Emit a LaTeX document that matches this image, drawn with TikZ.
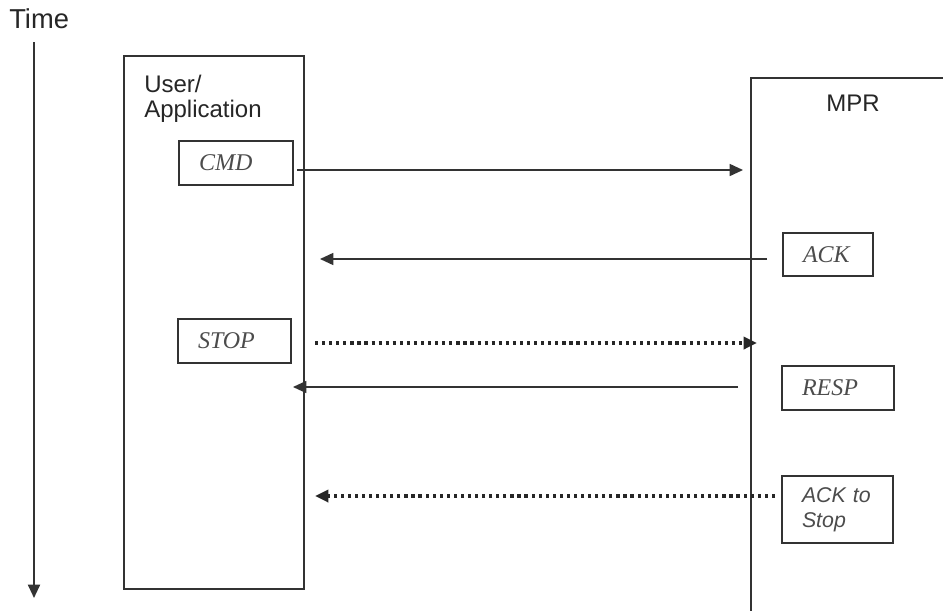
\documentclass[tikz,border=0pt]{standalone}
\usepackage{fontspec}
\setmainfont{Liberation Serif}
\setsansfont{Liberation Sans}
\usetikzlibrary{arrows.meta}
\begin{document}
\begin{tikzpicture}[x=0.75pt,y=-0.75pt,
  lane/.style={draw=black!80, line width=1.4pt},
  msgbox/.style={draw=black!80, line width=1.1pt, inner xsep=15pt, inner ysep=0pt, align=left,
    font=\fontsize{18}{20}\selectfont\itshape, text=black!70},
  msg/.style={draw=black!80, line width=1.2pt, -{Triangle[length=10pt,width=9pt]}},
  dmsg/.style={draw=black!85, line width=2.6pt, dash pattern=on 2.4pt off 2.9pt,
    -{Triangle[length=10pt,width=9pt]}},
  sans/.style={font=\sffamily\fontsize{18}{18.75}\selectfont, text=black!85, inner sep=0pt}
]
\useasboundingbox[fill=white] (0,0) rectangle (943,611);

% time axis
\node[sans, anchor=base west] (time) at (9,28) {\fontsize{20.5}{21}\selectfont Time};
\coordinate (t0) at (34,42);
\coordinate (t1) at (34,598);
\draw[lane, -{Triangle[length=10pt,width=9pt]}] (t0) -- (t1);

% user / application lane
\node[draw=black!80, line width=1.4pt, minimum width=135pt, minimum height=399.75pt, inner sep=0pt] (user) at (214,322.5) {};
\node[sans, anchor=north west, align=left] (userlbl) at (144,75) {User/\\Application};

% MPR lane (open to the right and bottom)
\coordinate (mprtr) at (943,78);
\coordinate (mprtl) at (751,78);
\coordinate (mprbl) at (751,611);
\draw[lane] (mprtr) -- (mprtl) -- (mprbl);
\node[sans, anchor=base] (mpr) at (853,111) {MPR};

% message boxes
\node[msgbox, text width=55.5pt, minimum height=33pt] (cmd) at (236,163) {CMD};
\node[msgbox, text width=37.5pt, minimum height=32.25pt] (ack) at (828,254.5) {ACK};
\node[msgbox, text width=54.75pt, minimum height=33pt] (stop) at (234.5,341) {STOP};
\node[msgbox, text width=54pt, minimum height=33pt] (resp) at (838,388) {RESP};
\node[msgbox, text width=53.25pt, minimum height=50.25pt,
  font=\sffamily\itshape\fontsize{16}{18.75}\selectfont] (ackstop) at (837.5,509.5) {ACK to\\Stop};

% messages
\coordinate (c1) at (297,170);  \coordinate (c2) at (743,170);
\draw[msg] (c1) -- (c2);
\coordinate (a1) at (767,259);  \coordinate (a2) at (320,259);
\draw[msg] (a1) -- (a2);
\coordinate (s1) at (315,343);  \coordinate (s2) at (757,343);
\draw[dmsg] (s1) -- (s2);
\coordinate (r1) at (738,387);  \coordinate (r2) at (293,387);
\draw[msg] (r1) -- (r2);
\coordinate (k1) at (775,496);  \coordinate (k2) at (315,496);
\draw[dmsg] (k1) -- (k2);
\end{tikzpicture}
\end{document}
